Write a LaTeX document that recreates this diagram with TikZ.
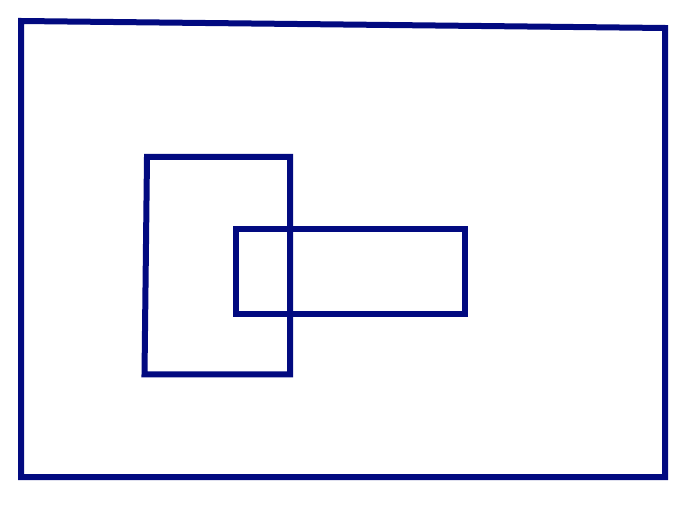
\documentclass[tikz,border=0pt]{standalone}
\definecolor{navyline}{RGB}{2,10,128}
\begin{document}
\begin{tikzpicture}[x=1pt,y=-1pt,
  outline/.style={draw=navyline,line width=6pt,line join=miter}]
\useasboundingbox (0,0) rectangle (696,510);
% outer frame (top edge slightly tilted)
\draw[outline] (21,21) -- (665,28) -- (665,477) -- (21,477) -- cycle;
% tall rectangle
\draw[outline] (147,157) -- (290,157) -- (290,374.5) -- (144.5,374.5) -- cycle;
% wide rectangle
\draw[outline] (235.5,229.5) rectangle (464.7,314.5);
\end{tikzpicture}
\end{document}
